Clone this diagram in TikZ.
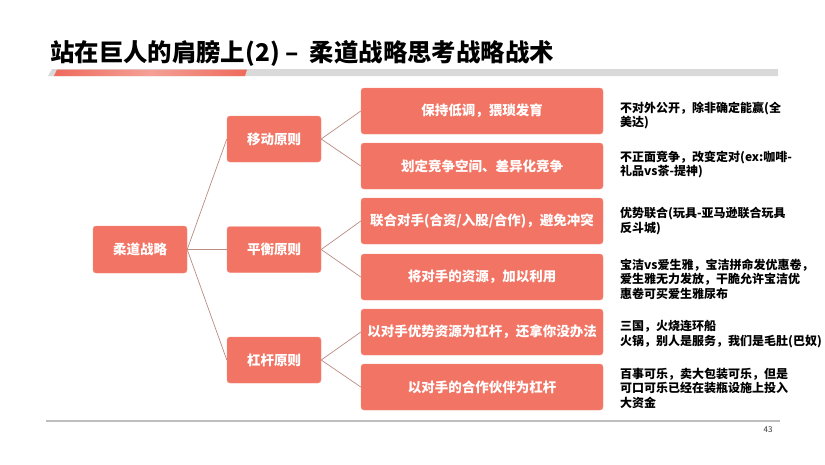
\documentclass[tikz,border=0pt]{standalone}
\usepackage{fontspec}
\setmainfont{Noto Sans CJK SC}
\usetikzlibrary{positioning}
\definecolor{boxred}{RGB}{242,116,100}
\definecolor{barred}{RGB}{238,106,92}
\definecolor{barpink}{RGB}{245,160,150}
\definecolor{bargray}{RGB}{217,217,217}
\definecolor{linkc}{RGB}{185,140,132}
\definecolor{rulegray}{RGB}{190,190,190}
\tikzset{
  rootbox/.style={fill=boxred, draw=boxred!80!white, rounded corners=3pt, minimum width=94pt, minimum height=47pt, inner sep=0pt, text=white, font=\bfseries\fontsize{13.5pt}{16pt}\selectfont},
  lvlone/.style={rootbox, minimum height=46pt},
  lvltwo/.style={rootbox, minimum width=242pt, minimum height=46pt},
  note/.style={anchor=west, align=left, inner sep=0pt, text=black, font=\bfseries\fontsize{12pt}{14.5pt}\selectfont},
  link/.style={draw=linkc, line width=0.7pt}
}
\begin{document}
\begin{tikzpicture}[x=1pt,y=-1pt]
\useasboundingbox (0,0) rectangle (825,464);
\fill[white] (0,0) rectangle (825,464);
% title
\node[anchor=base west, inner sep=0pt, font=\bfseries\fontsize{24.4pt}{28pt}\selectfont] (title) at (50,61) {站在巨人的肩膀上(2) – \ 柔道战略思考战略战术};
% bar
\fill[bargray] (52,69) -- (778,69) -- (778,76) -- (48,76) -- cycle;
\shade[left color=barred, right color=barred, middle color=barpink] (57,69.5) -- (247,69.5) -- (245,76) -- (54,76) -- cycle;
% bottom rule
\draw[rulegray, line width=1.2pt] (46,421) -- (780,421);
\node[inner sep=0pt, font=\fontsize{8pt}{10pt}\selectfont, text=black!80] (pnum) at (768,430) {43};
% nodes
\node[rootbox] (root) at (140,249.5) {柔道战略};
\node[lvlone] (m1) at (274,139) {移动原则};
\node[lvlone] (m2) at (274,249.5) {平衡原则};
\node[lvlone] (m3) at (274,360) {杠杆原则};
\node[lvltwo] (a1) at (482,111) {保持低调，猥琐发育};
\node[lvltwo] (a2) at (482,166) {划定竞争空间、差异化竞争};
\node[lvltwo] (b1) at (482,221) {联合对手(合资/入股/合作)，避免冲突};
\node[lvltwo] (b2) at (482,277) {将对手的资源，加以利用};
\node[lvltwo] (c1) at (482,332) {以对手优势资源为杠杆，还拿你没办法};
\node[lvltwo] (c2) at (482,387) {以对手的合作伙伴为杠杆};
% notes
\node[note] (n1) at (620,115.5) {不对外公开，除非确定能赢(全\\美达)};
\node[note] (n2) at (620,164.5) {不正面竞争，改变定对(ex:咖啡-\\礼品vs茶-提神)};
\node[note] (n3) at (620,221) {优势联合(玩具-亚马逊联合玩具\\反斗城)};
\node[note] (n4) at (620,279) {宝洁vs爱生雅，宝洁拼命发优惠卷，\\爱生雅无力发放，干脆允许宝洁优\\惠卷可买爱生雅尿布};
\node[note] (n5) at (620,334) {三国，火烧连环船\\火锅，别人是服务，我们是毛肚(巴奴)};
\node[note] (n6) at (620,388) {百事可乐，卖大包装可乐，但是\\可口可乐已经在装瓶设施上投入\\大资金};
% links
\foreach \t in {m1,m2,m3} \draw[link] (root.east) -- (\t.west);
\draw[link] (m1.east) -- (a1.west);
\draw[link] (m1.east) -- (a2.west);
\draw[link] (m2.east) -- (b1.west);
\draw[link] (m2.east) -- (b2.west);
\draw[link] (m3.east) -- (c1.west);
\draw[link] (m3.east) -- (c2.west);
\end{tikzpicture}
\end{document}
